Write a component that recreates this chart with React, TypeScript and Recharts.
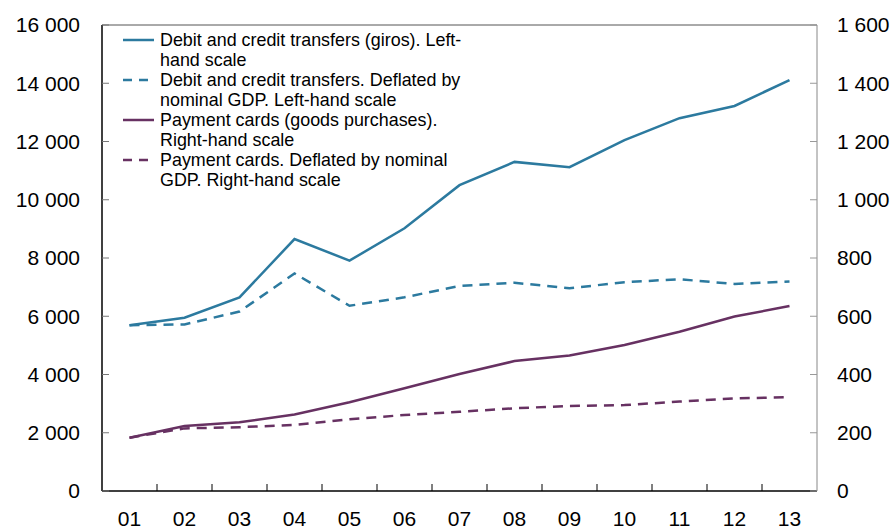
import React from "react";
import {
  LineChart,
  Line,
  XAxis,
  YAxis,
  ReferenceLine,
} from "recharts";

const years = ["01", "02", "03", "04", "05", "06", "07", "08", "09", "10", "11", "12", "13"];
const giros = [5690, 5950, 6650, 8650, 7910, 9020, 10500, 11300, 11120, 12050, 12800, 13220, 14110];
const girosDeflated = [5690, 5720, 6160, 7470, 6360, 6650, 7040, 7150, 6960, 7170, 7270, 7110, 7190];
const cards = [183, 223, 236, 263, 305, 353, 402, 446, 465, 501, 547, 599, 635];
const cardsDeflated = [183, 215, 219, 227, 246, 261, 272, 284, 292, 295, 307, 318, 322];

const leftTicks = [0, 2000, 4000, 6000, 8000, 10000, 12000, 14000, 16000];
const rightTicks = [0, 200, 400, 600, 800, 1000, 1200, 1400, 1600];

const BLUE = "#2c7a9f";
const PURPLE = "#673162";

const data = years.map((y, i) => ({
  x: i + 1,
  giros: giros[i],
  girosDeflated: girosDeflated[i],
  cards: cards[i],
  cardsDeflated: cardsDeflated[i],
}));

// small tick marks sit between the year labels
const yearBounds = years.slice(1).map((_, i) => i + 1.5);

const series = [
  { key: "giros", color: BLUE, dashed: false, lines: ["Debit and credit transfers (giros). Left-", "hand scale"] },
  { key: "girosDeflated", color: BLUE, dashed: true, lines: ["Debit and credit transfers. Deflated by", "nominal GDP. Left-hand scale"] },
  { key: "cards", color: PURPLE, dashed: false, lines: ["Payment cards (goods purchases).", "Right-hand scale"] },
  { key: "cardsDeflated", color: PURPLE, dashed: true, lines: ["Payment cards. Deflated by nominal", "GDP. Right-hand scale"] },
];

const fmt = (v: number) => v.toLocaleString("en-US").replace(/,/g, " ");

const FONT = "'Liberation Sans', Arial, sans-serif";

// legend sits inside the plot, drawn on top of the chart
const LegendBox = () => (
  <div
    style={{
      position: "absolute",
      left: 121,
      top: 30,
      fontFamily: FONT,
      fontSize: 17.9,
      color: "#000",
      lineHeight: "20px",
    }}
  >
    {series.map((s) => (
      <div key={s.key} style={{ display: "flex", alignItems: "flex-start" }}>
        <svg width={39} height={20} style={{ flexShrink: 0 }}>
          <line
            x1={2}
            x2={33}
            y1={10}
            y2={10}
            stroke={s.color}
            strokeWidth={2.5}
            strokeDasharray={s.dashed ? "9 7" : undefined}
          />
        </svg>
        <div>
          {s.lines.map((t) => (
            <div key={t}>{t}</div>
          ))}
        </div>
      </div>
    ))}
  </div>
);

export default function App() {
  return (
    <div style={{ position: "absolute", left: 0, top: 0, width: 895, height: 529, background: "#fff" }}>
      <LineChart
        width={895}
        height={529}
        data={data}
        margin={{ top: 25, right: 0, bottom: 0, left: 0 }}
      >
        <XAxis
          dataKey="x"
          type="number"
          domain={[0.5, 13.5]}
          ticks={years.map((_, i) => i + 1)}
          interval={0}
          tickFormatter={(v: number) => years[v - 1]}
          tickLine={false}
          axisLine={{ stroke: "#000", strokeWidth: 1.5 }}
          tick={{ fill: "#000", fontSize: 21, fontFamily: FONT }}
          tickMargin={14}
          height={38}
          allowDataOverflow
        />
        <YAxis
          yAxisId="left"
          orientation="left"
          domain={[0, 16000]}
          ticks={leftTicks}
          interval={0}
          tickFormatter={fmt}
          width={102}
          tickSize={-7}
          tickMargin={29}
          tickLine={{ stroke: "#777" }}
          axisLine={{ stroke: "#000", strokeWidth: 1.5 }}
          tick={{ fill: "#000", fontSize: 21, fontFamily: FONT }}
        />
        <YAxis
          yAxisId="right"
          orientation="right"
          domain={[0, 1600]}
          ticks={rightTicks}
          interval={0}
          tickFormatter={fmt}
          width={78}
          tickSize={-7}
          tickMargin={27}
          tickLine={{ stroke: "#999" }}
          axisLine={{ stroke: "#888" }}
          tick={{ fill: "#000", fontSize: 21, fontFamily: FONT }}
        />
        <ReferenceLine yAxisId="left" y={16000} stroke="#555" />
        {yearBounds.map((b) => (
          <ReferenceLine
            key={b}
            yAxisId="left"
            segment={[
              { x: b, y: 0 },
              { x: b, y: 240 },
            ]}
            stroke="#000"
          />
        ))}
        {series.map((s) => (
          <Line
            key={s.key}
            yAxisId={s.key.startsWith("giros") ? "left" : "right"}
            dataKey={s.key}
            stroke={s.color}
            strokeWidth={2.5}
            strokeDasharray={s.dashed ? "10 7" : undefined}
            dot={false}
            activeDot={false}
            isAnimationActive={false}
          />
        ))}
      </LineChart>
      <LegendBox />
    </div>
  );
}
